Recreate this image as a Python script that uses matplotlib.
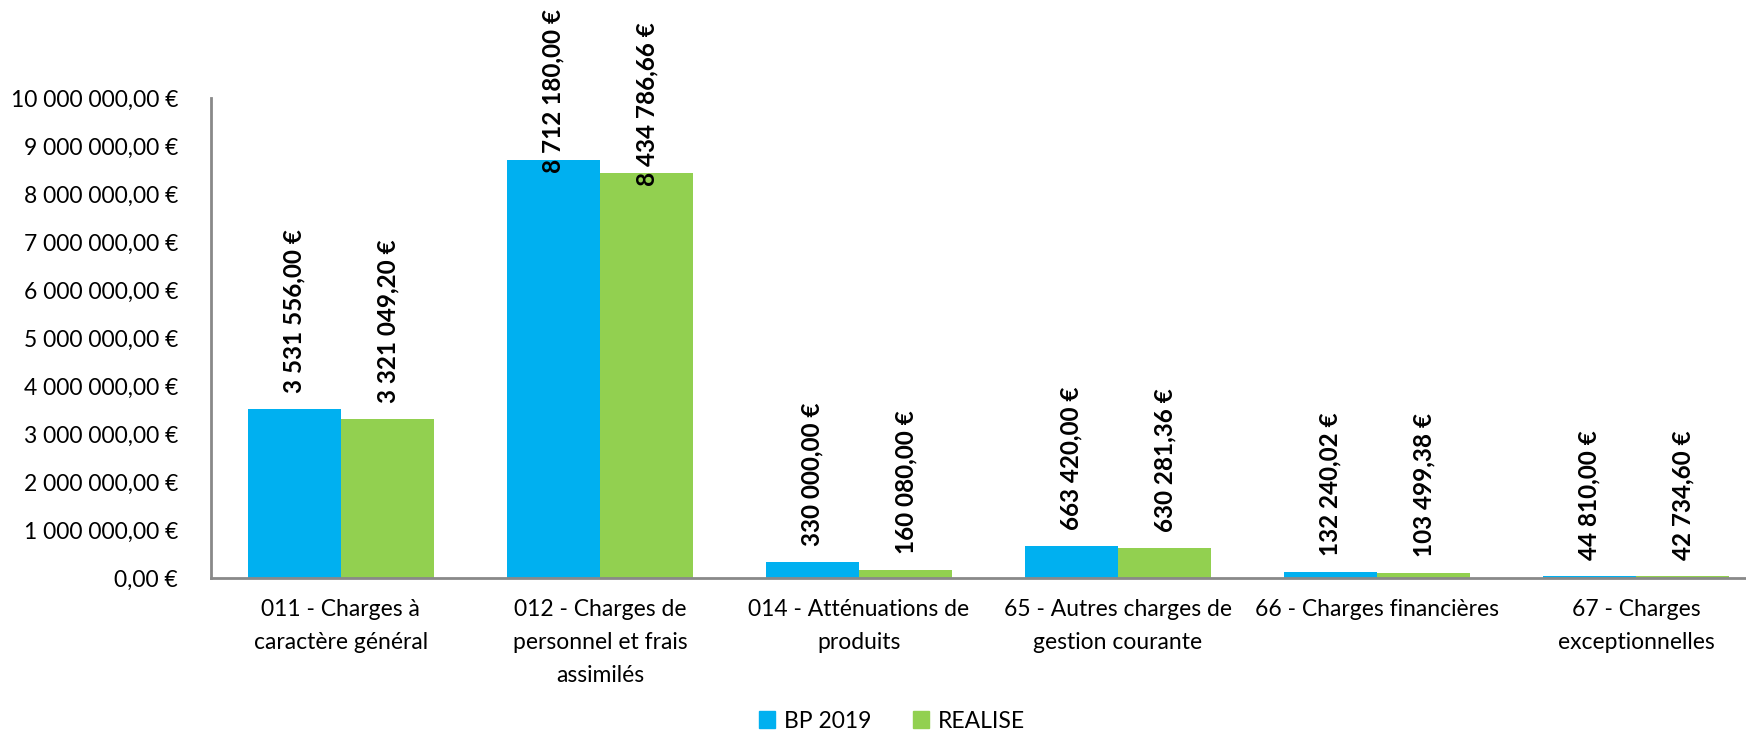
import matplotlib
matplotlib.use("Agg")
import matplotlib.pyplot as plt
import numpy as np
from matplotlib.patches import Patch

plt.rcParams['font.family'] = ['Lato', 'DejaVu Sans']

# données
categories = ["011 - Charges à\ncaractère général",
              "012 - Charges de\npersonnel et frais\nassimilés",
              "014 - Atténuations de\nproduits",
              "65 - Autres charges de\ngestion courante",
              "66 - Charges financières",
              "67 - Charges\nexceptionnelles"]
bp_2019 = [3531556.00, 8712180.00, 330000.00, 663420.00, 132240.02, 44810.00]
realise = [3321049.20, 8434786.66, 160080.00, 630281.36, 103499.38, 42734.60]
series_names = ["BP 2019", "REALISE"]

BLUE = "#00B0F0"
GREEN = "#92D050"
AXIS = "#898989"


def euro(v):
    # format français : espace pour les milliers, virgule décimale
    s = f"{v:,.2f}".replace(",", " ").replace(".", ",")
    return s + " €"


fig = plt.figure(figsize=(17.46, 7.32), dpi=100)
# la zone de tracé dépasse un peu à droite (coupée comme dans l'original)
ax = fig.add_axes([0.1211, 0.2104, 0.890, 0.6556])

x = np.arange(len(categories))
w = 0.36
b1 = ax.bar(x - w / 2, bp_2019, w, color=BLUE, label=series_names[0])
b2 = ax.bar(x + w / 2, realise, w, color=GREEN, label=series_names[1])

ax.set_xlim(-0.5, len(categories) - 0.5)
ax.set_ylim(0, 10_000_000)
ax.set_yticks(np.arange(0, 10_000_001, 1_000_000))
ax.set_yticklabels([euro(v) for v in np.arange(0, 10_000_001, 1_000_000)], fontsize=16.5)
ax.set_xticks(x)
ax.set_xticklabels(categories, fontsize=16.5, linespacing=1.7)
ax.tick_params(axis='both', length=0, colors='black')
ax.tick_params(axis='y', pad=24)
ax.tick_params(axis='x', pad=15)

for s in ['top', 'right']:
    ax.spines[s].set_visible(False)
for s in ['left', 'bottom']:
    ax.spines[s].set_color(AXIS)
    ax.spines[s].set_linewidth(2)

# étiquettes de données (verticales, en gras)
for bars, vals in [(b1, bp_2019), (b2, realise)]:
    for rect, v in zip(bars, vals):
        off = -9.5 if v > 8_000_000 else 11.5  # Excel rentre les grandes étiquettes dans la barre
        ax.annotate(euro(v), (rect.get_x() + rect.get_width() / 2, v),
                    xytext=(0, off), textcoords='offset points',
                    rotation=90, ha='center', va='bottom',
                    fontsize=17.5, fontweight='bold', annotation_clip=False)

handles = [Patch(color=BLUE, label=series_names[0]), Patch(color=GREEN, label=series_names[1])]
fig.legend(handles=handles, loc='center', bbox_to_anchor=(0.511, 0.015), ncol=2,
           frameon=False, fontsize=16.5, handlelength=0.7, handleheight=0.7,
           handletextpad=0.4, columnspacing=1.8)

fig.savefig("out.png", dpi=100)
plt.close()
